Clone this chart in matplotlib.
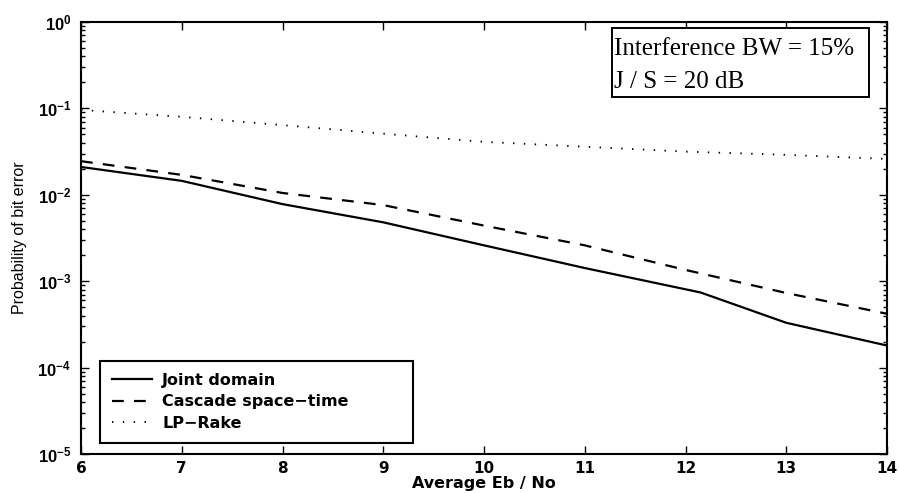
import matplotlib
matplotlib.use("Agg")
import matplotlib.pyplot as plt
from matplotlib.patches import Rectangle
from matplotlib.ticker import LogLocator, NullFormatter, FixedLocator

# Bit error probability vs. average Eb/No
snr_joint = [6, 7, 8, 9, 10, 11, 12.15, 13, 14]
ber_joint = [0.021, 0.0145, 0.0078, 0.0048, 0.0026, 0.00142, 0.00074, 0.00033, 0.00018]

snr_cascade = [6, 7, 8, 9, 10, 11, 12, 13, 14]
ber_cascade = [0.0245, 0.017, 0.0105, 0.0076, 0.0044, 0.0026, 0.00135, 0.00073, 0.00042]

snr_rake = [6, 7, 8, 9, 10, 11, 12, 13, 14]
ber_rake = [0.096, 0.080, 0.064, 0.051, 0.041, 0.036, 0.0316, 0.029, 0.026]

series_labels = ["Joint domain", "Cascade space\u2212time", "LP\u2212Rake"]
x_ticks = [6, 7, 8, 9, 10, 11, 12, 13, 14]
annotation_lines = ["Interference BW = 15%", "J / S = 20 dB"]

sans = ["Liberation Sans", "DejaVu Sans"]
wide = ["DejaVu Sans"]
serif = ["Liberation Serif", "DejaVu Serif"]

fig = plt.figure(figsize=(8.99, 4.93), dpi=100)
ax = fig.add_axes([0.0901, 0.0791, 0.8966, 0.8763])

l1, = ax.plot(snr_joint, ber_joint, color="black", lw=1.6, linestyle="-")
l2, = ax.plot(snr_cascade, ber_cascade, color="black", lw=1.6,
              linestyle=(0, (5.3, 4.6)))
l3, = ax.plot(snr_rake, ber_rake, color="black", lw=1.3,
              linestyle=(0, (0.8, 5.2)))

ax.set_yscale("log")
ax.set_xlim(6, 14)
ax.set_ylim(1e-5, 1)

ax.xaxis.set_major_locator(FixedLocator(x_ticks))
ax.yaxis.set_major_locator(LogLocator(base=10, numticks=10))
ax.yaxis.set_minor_locator(LogLocator(base=10, subs=range(2, 10), numticks=10))
ax.yaxis.set_minor_formatter(NullFormatter())

ax.tick_params(which="both", direction="in", top=True, right=True, width=1.0)
ax.tick_params(which="major", length=6)
ax.tick_params(which="minor", length=3)
ax.tick_params(axis="x", which="major", labelsize=11, pad=5)
ax.tick_params(axis="y", which="major", labelsize=12, pad=7)
for lab in ax.get_xticklabels():
    lab.set_fontfamily(wide)
    lab.set_fontweight("bold")
for lab in ax.get_yticklabels():
    lab.set_fontfamily(sans)
    lab.set_fontweight("bold")
for sp in ax.spines.values():
    sp.set_linewidth(1.5)

ax.set_xlabel("Average Eb / No", fontsize=11.5, family=wide,
              fontweight="bold", va="baseline")
ax.xaxis.set_label_coords(0.5, -0.079)
ax.set_ylabel("Probability of bit error", fontsize=11.5, family=sans)
ax.yaxis.set_label_coords(-0.067, 0.5)

leg = ax.legend([l1, l2, l3], series_labels, loc="lower left",
                bbox_to_anchor=(0.0236, 0.0255, 0.388, 0.2), mode="expand",
                fancybox=False, framealpha=1, edgecolor="black",
                handlelength=2.5, handletextpad=0.65, labelspacing=0.42,
                borderpad=0.75, borderaxespad=0,
                prop={"family": wide, "size": 11.5, "weight": "bold"})
leg.get_frame().set_linewidth(1.5)

ax.add_patch(Rectangle((0.659, 0.826), 0.319, 0.160, transform=ax.transAxes,
                       fill=True, facecolor="white", edgecolor="black",
                       lw=1.4, zorder=5))
ax.text(0.661, 0.9236, annotation_lines[0], transform=ax.transAxes,
        family=serif, fontsize=18, va="baseline", zorder=6)
ax.text(0.661, 0.847, annotation_lines[1], transform=ax.transAxes,
        family=serif, fontsize=18, va="baseline", zorder=6)

fig.savefig("out.png", dpi=100)
